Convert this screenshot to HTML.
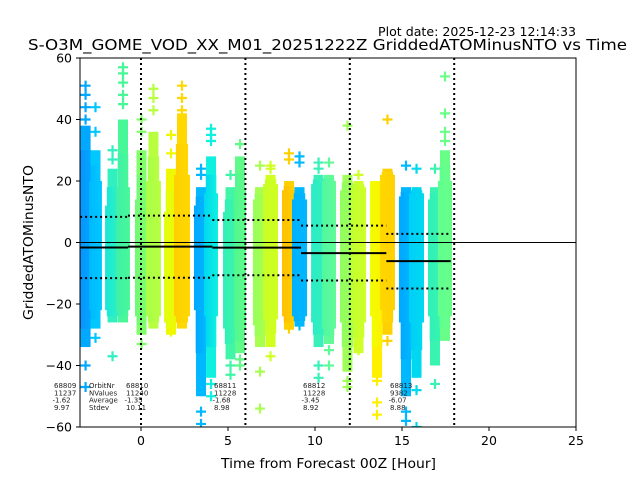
<!DOCTYPE html>
<html><head><meta charset="utf-8"><style>
body{margin:0;background:#fff;}
svg{display:block;font-family:"DejaVu Sans","Liberation Sans",sans-serif;}
</style></head><body>
<svg id="chart" width="640" height="480" viewBox="0 0 640 480">
<text x="378" y="36" font-size="12" textLength="198" lengthAdjust="spacingAndGlyphs">Plot date: 2025-12-23 12:14:33</text>
<text x="28" y="50" font-size="15.5" textLength="599" lengthAdjust="spacingAndGlyphs">S-O3M_GOME_VOD_XX_M01_20251222Z GriddedATOMinusNTO vs Time</text>
<defs><clipPath id="pc"><rect x="80" y="58" width="496" height="369"/></clipPath></defs>
<g id="marks" clip-path="url(#pc)"></g>
<g id="lines" clip-path="url(#pc)"></g>
<g id="axes"></g>
<g id="ann"></g>
</svg>
<script>
// column data (hours / values)
const colStart=[-3.5,-2.87,-1.95,-1.32,-0.23,0.4,1.44,2.01,3.16,3.74,4.83,5.46,6.55,7.13,8.22,8.79,9.89,10.52,11.55,12.18,13.28,13.85,14.94,15.52,16.61,17.18];
const colEnd=[-2.87,-2.36,-1.32,-0.75,0.29,1.03,2.01,2.7,3.74,4.31,5.46,5.92,7.13,7.76,8.79,9.43,10.52,11.09,12.18,12.82,13.85,14.48,15.52,16.15,17.18,17.76];
const coreTop=[22,20,12,18,14,20,10,22,12,16,10,17,14,19,17,14,19,20,17,18,20,22,15,16,14,20];
const coreBot=[-22,-22,-22,-22,-24,-24,-26,-24,-22,-24,-28,-28,-27,-25,-24,-24,-26,-28,-26,-26,-24,-22,-26,-26,-24,-24];
const tailTop=[38,30,24,40,30,36,24,42,18,28,18,28,18,22,20,18,22,22,22,20,20,24,18,18,18,30];
const tailBot=[-34,-28,-26,-26,-30,-28,-30,-28,-50,-44,-38,-36,-34,-34,-28,-27,-34,-33,-42,-36,-44,-30,-50,-44,-40,-32];
const outliers=[[51,48,44,40,-40,-47],[44,36,-31],[30,27,-37],[57,55,52,48,45],[40,36,-33],[50,47,43],[35,29,-29],[51,47,43,37],[24,22,-55,-59],[37,35,33,-46,-50],[22,-40,-43],[32,-38,-40],[25,-54,-42],[25,24,-37],[29,27,-28],[28,26,-27],[26,24,-40,-44],[26,-35,-40],[38,-47,-45],[22,-35],[-45,-52,-56],[40,-32],[25,-55,-58],[24,-48,-60],[24,-46],[54,42,36,33]];
const colorA=["#0a90ff","#00b8ff","#18e8d8","#40f0a8","#70f878","#a8ff48","#e0ff10","#ffd000","#00a8ff","#00d8f0","#30f0b8","#50f890","#98ff58","#c8ff28","#ffc000","#00b0ff","#28ecc8","#50f8a0","#90ff60","#c0ff30","#f0ff00","#ffd800","#00a8ff","#00d0f8","#30f0b8","#60ff90"];
const colorB=["#00a8ff","#00c8ff","#30f0c0","#48f898","#80ff68","#b8ff40","#f0f800","#ffd800","#00b8ff","#10f0e0","#40f4a8","#60fa88","#a8ff50","#d0ff20","#ffd000","#00b8ff","#38f0b8","#60fa98","#a0ff58","#d0ff28","#fff000","#ffd000","#00b8ff","#00d8f0","#38f4b0","#68ff88"];
const orbits=["68809","68810","68811","68812","68813"];
const nvals=["11237","11240","11228","11228","9382"];
const means=[-1.62,-1.35,-1.68,-3.45,-6.07];
const stdevs=[9.97,10.11,8.98,8.92,8.88];
const segStart=[-3.5,-0.75,4.1,9.2,14.1];
const segEnd=[-0.75,4.1,9.2,14.1,17.8];
const xTicks=[0,5,10,15,20,25];
const yTicks=[-60,-40,-20,0,20,40,60];
const vLines=[0,6,12,18];

const NS="http://www.w3.org/2000/svg";
const X=h=>141+(h)*17.4;
const Y=v=>242.5-v*3.075;
function mk(t,a,p){const e=document.createElementNS(NS,t);for(const k in a)e.setAttribute(k,a[k]);p.appendChild(e);return e;}
const marks=document.getElementById('marks'),lines=document.getElementById('lines'),axes=document.getElementById('axes'),ann=document.getElementById('ann');
const defs=document.querySelector('defs');
function plus(x,y,c,p){const g=mk('path',{d:`M${x-5},${y}H${x+5}M${x},${y-5}V${y+5}`,stroke:c,'stroke-width':2.2,fill:'none'},p);}
for(let i=0;i<colStart.length;i++){
  const gid='g'+i;
  const lg=mk('linearGradient',{id:gid,x1:0,x2:1,y1:0,y2:0},defs);
  mk('stop',{offset:0,'stop-color':colorA[i]},lg);mk('stop',{offset:1,'stop-color':colorB[i]},lg);
  const x0=X(colStart[i])-2,x1=X(colEnd[i])+2,cx=(x0+x1)/2,w=x1-x0;
  const g=mk('g',{},marks);
  
  
  mk('rect',{x:cx-5,y:Y(tailTop[i]),width:10,height:Y(tailBot[i])-Y(tailTop[i]),fill:colorB[i]},g);
  const sT=(coreTop[i]+tailTop[i])/2, sB=(coreBot[i]+tailBot[i])/2;
  mk('rect',{x:cx-w*0.38,y:Y(sT),width:w*0.76,height:Y(sB)-Y(sT),fill:`url(#${gid})`},g);
  mk('rect',{x:x0,y:Y(coreTop[i]),width:w,height:Y(coreBot[i])-Y(coreTop[i]),fill:`url(#${gid})`},g);
  outliers[i].forEach(v=>plus(cx,Y(v),colorB[i],g));
}
const zl=mk('line',{x1:80,x2:576,y1:Y(0),y2:Y(0),stroke:'#000','stroke-width':1},lines);

vLines.forEach(h=>{const l=mk('line',{x1:X(h),x2:X(h),y1:58,y2:427,stroke:'#000','stroke-width':2,'stroke-dasharray':'2,3'},lines);
});
for(let i=0;i<means.length;i++){
  const a=X(segStart[i]),b=X(segEnd[i]);
  const m=mk('line',{x1:a,x2:b,y1:Y(means[i]),y2:Y(means[i]),stroke:'#000','stroke-width':2},lines);
  
  [means[i]+stdevs[i],means[i]-stdevs[i]].forEach(v=>{const d=mk('line',{x1:a,x2:b,y1:Y(v),y2:Y(v),stroke:'#000','stroke-width':2,'stroke-dasharray':'2,3'},lines);
  });
}
const fr=mk('rect',{x:80,y:58,width:496,height:369,fill:'none',stroke:'#000','stroke-width':1},axes);

xTicks.forEach(t=>{mk('line',{x1:X(t),x2:X(t),y1:427,y2:431,stroke:'#000'},axes);
 const tx=mk('text',{x:X(t),y:445,'font-size':12.5,'text-anchor':'middle'},axes);tx.textContent=t;
 });
yTicks.forEach(t=>{mk('line',{x1:76,x2:80,y1:Y(t),y2:Y(t),stroke:'#000'},axes);
 const tx=mk('text',{x:72,y:Y(t)+4.5,'font-size':12.5,'text-anchor':'end'},axes);tx.textContent=(t<0?'\u2212':'')+Math.abs(t);
 });
const xt=mk('text',{x:221,y:468,'font-size':13,textLength:215,lengthAdjust:'spacingAndGlyphs'},axes);xt.textContent='Time from Forecast 00Z [Hour]';

const yt=mk('text',{x:0,y:0,'font-size':13,textLength:155,lengthAdjust:'spacingAndGlyphs',transform:'translate(33 320) rotate(-90)'},axes);yt.textContent='GriddedATOMinusNTO';

const annX=[54,126,214,303,390];
function txt(x,y,s){const t=mk('text',{x:x,y:y,'font-size':7,fill:'#222'},ann);t.textContent=s;}
['OrbitNr','NValues','Average','Stdev'].forEach((s,j)=>txt(89,388+j*7.3,s));
for(let i=0;i<orbits.length;i++){
  [orbits[i],nvals[i],String(means[i]),String(stdevs[i])].forEach((s,j)=>txt(annX[i]+(j==2?-1.5:0),388+j*7.3,s));
}
</script>
</body></html>
